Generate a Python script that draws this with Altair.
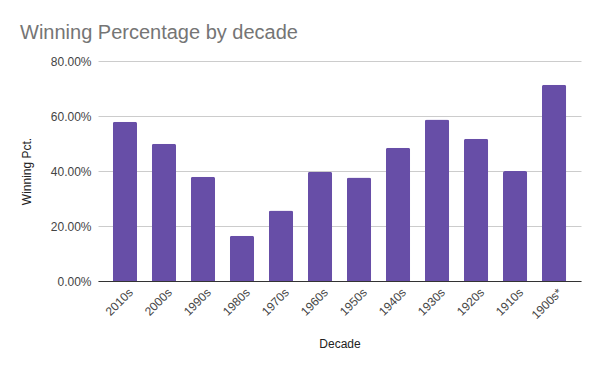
import altair as alt
import pandas as pd

decades = ["2010s", "2000s", "1990s", "1980s", "1970s", "1960s",
           "1950s", "1940s", "1930s", "1920s", "1910s", "1900s*"]
win_pct = [0.579, 0.499, 0.379, 0.165, 0.256, 0.397,
           0.376, 0.485, 0.587, 0.517, 0.400, 0.714]

df = pd.DataFrame({"decade": decades, "pct": win_pct})

FONT = "Liberation Sans"

chart = alt.Chart(df).mark_bar(
    color="#674ea7", cornerRadiusTopLeft=2, cornerRadiusTopRight=2
).encode(
    x=alt.X("decade:N", sort=decades,
            scale=alt.Scale(paddingInner=0.38, paddingOuter=0.38),
            axis=alt.Axis(title="Decade", labelAngle=-45, labelAlign="right",
                          labelBaseline="middle", ticks=False, labelPadding=9,
                          labelOffset=6,
                          domainColor="#333333", titlePadding=18)),
    y=alt.Y("pct:Q",
            scale=alt.Scale(domain=[0, 0.8]),
            axis=alt.Axis(title="Winning Pct.", format=".2%", values=[0, 0.2, 0.4, 0.6, 0.8],
                          ticks=False, domain=False, labelPadding=7,
                          gridColor="#cccccc", titlePadding=17)),
).properties(
    width=483, height=220,
    title=alt.TitleParams("Winning Percentage by decade", anchor="start", frame="group",
                          dx=-78, offset=12, fontSize=20, fontWeight="normal",
                          color="#757575", font=FONT),
    autosize=alt.AutoSizeParams(type="none"),
    padding={"left": 90, "top": 53, "right": 11, "bottom": 78},
).configure_axis(
    labelFont=FONT, titleFont=FONT, labelFontSize=12, titleFontSize=12,
    labelColor="#444444", titleColor="#222222", titleFontWeight="normal",
).configure_view(stroke=None)

chart.save("out.html", embed_options={"renderer": "svg", "actions": False})
